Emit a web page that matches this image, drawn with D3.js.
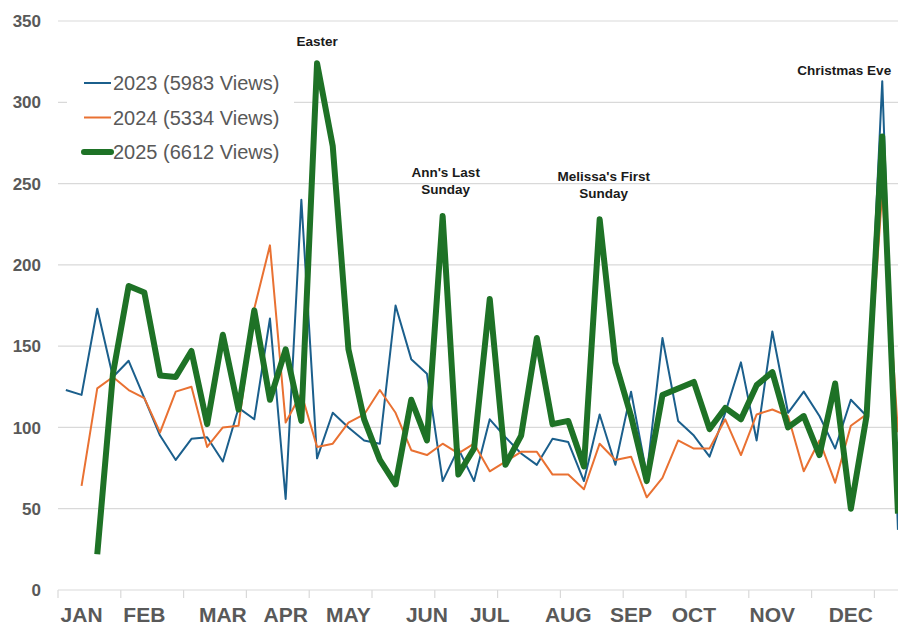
<!DOCTYPE html>
<html>
<head>
<meta charset="utf-8">
<script src="https://cdn.jsdelivr.net/npm/d3@7"></script>
<style>
  body { margin: 0; background: #ffffff; }
  svg { display: block; }
</style>
</head>
<body>
<div id="chart"></div>
<script>
// weekly views, one slot per Sunday (null = no week yet)
var views2023 = [123, 120, 173, 131, 141, 118, 95, 80, 93, 94, 79, 112, 105, 167, 56, 240, 81, 109, 100, 92,
    90, 175, 142, 133, 67, 87, 67, 105, 94, 84, 77, 93, 91, 67, 108, 77, 122, 71, 155, 104,
    95, 82, 109, 140, 92, 159, 109, 122, 107, 87, 117, 107, 313, 37];
var views2024 = [null, 64, 124, 131, 123, 118, 97, 122, 125, 88, 100, 101, 173, 212, 103, 121, 88, 90, 103, 108,
    123, 109, 86, 83, 90, 84, 90, 73, 79, 85, 85, 71, 71, 62, 90, 80, 82, 57, 69, 92,
    87, 87, 105, 83, 108, 111, 107, 73, 92, 66, 101, 108, 245, 97];
var views2025 = [null, null, 22, 133, 187, 183, 132, 131, 147, 102, 157, 111, 172, 117, 148, 104, 324, 273, 148, 105,
    80, 65, 117, 92, 230, 71, 87, 179, 77, 95, 155, 102, 104, 76, 228, 140, 107, 67, 120, 124,
    128, 99, 112, 105, 126, 134, 100, 107, 83, 127, 50, 107, 279, 47];

var seriesNames = ["2023 (5983 Views)", "2024 (5334 Views)", "2025 (6612 Views)"];
var seriesColors = ["#1b5f8c", "#e97132", "#1e7226"];
var seriesWidths = [2, 2, 6];

// month label -> week slot where it is shown
var monthLabels = ["JAN", "FEB", "MAR", "APR", "MAY", "JUN", "JUL", "AUG", "SEP", "OCT", "NOV", "DEC"];
var monthWeeks = [1, 5, 10, 14, 18, 23, 27, 32, 36, 40, 45, 50];
var yTicks = [0, 50, 100, 150, 200, 250, 300, 350];

// notes over the peaks
var noteWeeks = [16, 24, 34, 52];
var noteLines = [["Easter"], ["Ann's Last", "Sunday"], ["Melissa's First", "Sunday"], ["Christmas Eve"]];

var width = 898, height = 628;
var svg = d3.select("#chart").append("svg")
    .attr("width", width)
    .attr("height", height);

var weeks = d3.range(views2023.length);
var x = d3.scaleBand()
    .domain(weeks)
    .range([58, 58 + 15.7 * weeks.length])
    .padding(0);
var y = d3.scaleLinear()
    .domain([0, 350])
    .range([590, 21]);

function cx(i) { return x(i) + x.bandwidth() / 2; }

//gridlines
svg.append("g").selectAll("line")
    .data(yTicks.slice(1))
    .enter()
    .append("line")
    .attr("x1", 58)
    .attr("x2", width)
    .attr("y1", function (d) { return y(d); })
    .attr("y2", function (d) { return y(d); })
    .style("stroke", "#d9d9d9")
    .style("stroke-width", 1.2);

//y labels
svg.append("g").selectAll("text")
    .data(yTicks)
    .enter()
    .append("text")
    .attr("x", 41)
    .attr("y", function (d) { return y(d); })
    .attr("dy", "0.36em")
    .attr("text-anchor", "end")
    .style("font-family", "'Liberation Sans', Arial, sans-serif")
    .style("font-weight", "bold")
    .style("font-size", "17px")
    .style("fill", "#595959")
    .text(function (d) { return d; });

//x axis line and ticks every 4 weeks
var xAxis = d3.axisBottom(x)
    .tickValues(weeks.filter(function (d) { return d % 4 === 0; }))
    .tickSize(8)
    .tickFormat("");
var axisG = svg.append("g")
    .attr("transform", "translate(0," + y(0) + ")")
    .call(xAxis);
axisG.select(".domain").remove();
axisG.selectAll(".tick")
    .attr("transform", function (d) { return "translate(" + x(d) + ",0)"; });
axisG.selectAll(".tick line").style("stroke", "#d9d9d9").style("stroke-width", 1.2);
svg.append("line")
    .attr("x1", 58)
    .attr("x2", width)
    .attr("y1", y(0))
    .attr("y2", y(0))
    .style("stroke", "#d9d9d9")
    .style("stroke-width", 1.2);

//month labels
svg.append("g").selectAll("text")
    .data(monthLabels)
    .enter()
    .append("text")
    .attr("x", function (d, i) { return cx(monthWeeks[i]); })
    .attr("y", 622)
    .attr("text-anchor", "middle")
    .style("font-family", "'Liberation Sans', Arial, sans-serif")
    .style("font-weight", "bold")
    .style("font-size", "21px")
    .style("fill", "#595959")
    .text(function (d) { return d; });

//lines
var allSeries = [views2023, views2024, views2025];
var line = d3.line()
    .defined(function (d) { return d !== null; })
    .x(function (d, i) { return cx(i); })
    .y(function (d) { return y(d); });

svg.append("g").selectAll("path")
    .data(allSeries)
    .enter()
    .append("path")
    .attr("d", function (d) { return line(d); })
    .style("fill", "none")
    .style("stroke", function (d, i) { return seriesColors[i]; })
    .style("stroke-width", function (d, i) { return seriesWidths[i]; })
    .style("stroke-linejoin", "round");

//notes
var noteDx = [0, 3, 4, -38];
var noteDy = [-22, -44, -43, -11];
var notes = svg.append("g");
noteWeeks.forEach(function (w, k) {
    var peak = d3.max(allSeries, function (s) { return s[w]; });
    var t = notes.append("text")
        .attr("x", cx(w) + noteDx[k])
        .attr("y", y(peak) + noteDy[k])
        .attr("text-anchor", "middle")
        .style("font-family", "'Liberation Sans', Arial, sans-serif")
        .style("font-weight", "bold")
        .style("font-size", "13.5px")
        .style("fill", "#1a1a1a");
    noteLines[k].forEach(function (txt, j) {
        t.append("tspan")
            .attr("x", cx(w) + noteDx[k])
            .attr("dy", j === 0 ? "0.35em" : "17px")
            .text(txt);
    });
});

//legend
var legend = svg.append("g");
legend.append("rect")
    .attr("x", 67)
    .attr("y", 62)
    .attr("width", 227)
    .attr("height", 110)
    .style("fill", "#ffffff");
var rows = legend.selectAll("g")
    .data(seriesNames)
    .enter()
    .append("g")
    .attr("transform", function (d, i) { return "translate(84," + (83 + i * 34.5) + ")"; });
rows.append("line")
    .attr("x1", 0)
    .attr("x2", 27)
    .style("stroke", function (d, i) { return seriesColors[i]; })
    .style("stroke-width", function (d, i) { return seriesWidths[i]; })
    .style("stroke-linecap", function (d, i) { return i === 2 ? "round" : "butt"; });
rows.append("text")
    .attr("x", 29)
    .attr("dy", "0.36em")
    .style("font-family", "'Liberation Sans', Arial, sans-serif")
    .style("font-size", "20px")
    .style("fill", "#595959")
    .text(function (d) { return d; });
</script>
</body>
</html>
